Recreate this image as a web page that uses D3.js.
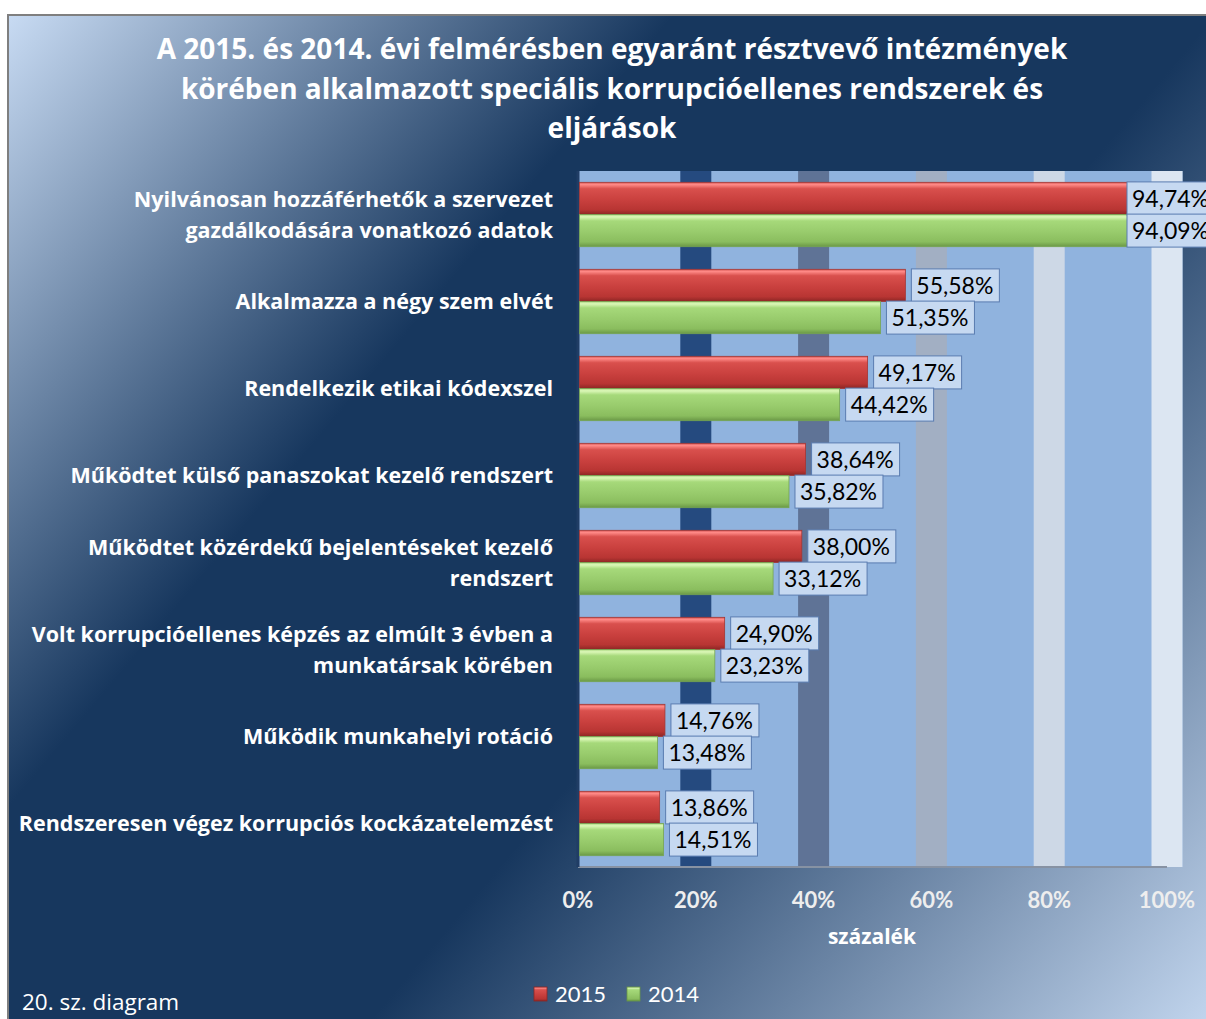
<!DOCTYPE html>
<html lang="hu">
<head>
<meta charset="UTF-8">
<title>Korrupcióellenes rendszerek</title>
<style>
  html, body { margin: 0; padding: 0; background: #ffffff; }
  svg { display: block; }
  text { font-family: Lato, "Open Sans", sans-serif; }
  .os { font-family: "Open Sans", Lato, sans-serif; }
</style>
</head>
<body>
<script src="https://cdn.jsdelivr.net/npm/d3@7"></script>
<div id="chart"></div>
<script>

// adatok
const titleLines = [
  "A 2015. és 2014. évi felmérésben egyaránt résztvevő intézmények",
  "körében alkalmazott speciális korrupcióellenes rendszerek és",
  "eljárások"
];
const categories = [
  ["Nyilvánosan hozzáférhetők a szervezet", "gazdálkodására vonatkozó adatok"],
  ["Alkalmazza a négy szem elvét"],
  ["Rendelkezik etikai kódexszel"],
  ["Működtet külső panaszokat kezelő rendszert"],
  ["Működtet közérdekű bejelentéseket kezelő", "rendszert"],
  ["Volt korrupcióellenes képzés az elmúlt 3 évben a", "munkatársak körében"],
  ["Működik munkahelyi rotáció"],
  ["Rendszeresen végez korrupciós kockázatelemzést"]
];
const seriesNames = ["2015", "2014"];
const values2015 = [94.74, 55.58, 49.17, 38.64, 38.00, 24.90, 14.76, 13.86];
const values2014 = [94.09, 51.35, 44.42, 35.82, 33.12, 23.23, 13.48, 14.51];
const xTicks = [0, 20, 40, 60, 80, 100];
const axisTitle = "százalék";
const footNote = "20. sz. diagram";

// méretek
const W = 1206, H = 1019;
const plot = {left: 578, right: 1167, top: 171, bottom: 867};
const bandW = 31;
const bandColors = ["#254a7f", "#5f7396", "#a2afc3", "#cdd8e6", "#dce6f2"];
const fmt = v => v.toFixed(2).replace(".", ",") + "%";

const svg = d3.select("#chart").append("svg")
  .attr("width", W)
  .attr("height", H);

const defs = svg.append("defs");

// háttér színátmenet
const bg = defs.append("linearGradient")
  .attr("id", "bg")
  .attr("gradientUnits", "userSpaceOnUse")
  .attr("x1", 8).attr("y1", 15).attr("x2", 1228).attr("y2", 1040);
[[0, "#c8dbf3"], [0.32, "#17375e"], [0.58, "#17375e"], [1, "#c8dbf3"]].forEach(s =>
  bg.append("stop").attr("offset", s[0]).attr("stop-color", s[1]));

// oszlop színátmenetek (domború hatás)
const barGrad = {
  "2015": [[0, "#d85a58"], [0.07, "#ff8a87"], [0.2, "#d9504d"], [0.55, "#c9403e"], [0.85, "#b83533"], [1, "#8c2624"]],
  "2014": [[0, "#a9d67f"], [0.07, "#dcf8b8"], [0.2, "#a6d97a"], [0.55, "#98cb6c"], [0.85, "#8abd5e"], [1, "#6a9846"]]
};
seriesNames.forEach(name => {
  const g = defs.append("linearGradient")
    .attr("id", "bar" + name)
    .attr("x1", 0).attr("y1", 0).attr("x2", 0).attr("y2", 1);
  barGrad[name].forEach(s => g.append("stop").attr("offset", s[0]).attr("stop-color", s[1]));
});

// keret
svg.append("rect")
  .attr("x", 8).attr("y", 15)
  .attr("width", 1230).attr("height", 1040)
  .attr("fill", "url(#bg)")
  .attr("stroke", "#7f7f7f")
  .attr("stroke-width", 2);

// cím
svg.append("g").selectAll("text")
  .data(titleLines)
  .join("text")
  .attr("class", "os")
  .attr("x", 612)
  .attr("y", (d, i) => 59 + i * 39.5)
  .attr("text-anchor", "middle")
  .attr("fill", "#ffffff")
  .attr("font-size", 28)
  .attr("font-weight", "bold")
  .text(d => d);

// skálák
const x = d3.scaleLinear().domain([0, 100]).range([plot.left, plot.right]);
const y = d3.scaleBand()
  .domain(d3.range(categories.length))
  .range([plot.top, plot.bottom])
  .paddingInner(0.26)
  .paddingOuter(0.13);
const ySub = d3.scaleBand().domain(seriesNames).range([0, y.bandwidth()]);

// rajzterület
svg.append("rect")
  .attr("x", plot.left)
  .attr("y", plot.top)
  .attr("width", x(100) + bandW / 2 - plot.left)
  .attr("height", plot.bottom - plot.top)
  .attr("fill", "#90b3de");

// rácsvonalak széles sávként
svg.append("g").selectAll("rect")
  .data(xTicks.slice(1))
  .join("rect")
  .attr("x", d => x(d) - bandW / 2)
  .attr("y", plot.top)
  .attr("width", bandW)
  .attr("height", plot.bottom - plot.top)
  .attr("fill", (d, i) => bandColors[i]);

// tengelyvonalak
svg.append("line")
  .attr("x1", plot.left).attr("x2", x(100))
  .attr("y1", plot.bottom).attr("y2", plot.bottom)
  .attr("stroke", "#8792a3").attr("stroke-width", 2);
svg.append("line")
  .attr("x1", plot.left).attr("x2", plot.left)
  .attr("y1", plot.top).attr("y2", plot.bottom)
  .attr("stroke", "#203d65").attr("stroke-width", 3);

// oszlopok
const data = categories.map((c, i) => ({
  i: i,
  vals: [{s: "2015", v: values2015[i]}, {s: "2014", v: values2014[i]}]
}));

const groups = svg.append("g").selectAll("g")
  .data(data)
  .join("g")
  .attr("transform", d => "translate(0," + y(d.i) + ")");

groups.selectAll("rect")
  .data(d => d.vals)
  .join("rect")
  .attr("x", plot.left + 1.5)
  .attr("y", d => ySub(d.s))
  .attr("width", d => x(d.v) - plot.left - 1.5)
  .attr("height", ySub.bandwidth())
  .attr("fill", d => "url(#bar" + d.s + ")")
  .attr("stroke", d => d.s === "2015" ? "#a33634" : "#76a552")
  .attr("stroke-width", 0.8);

// adatfeliratok (a jobb szélen a diagram kerete felé tolva, mint az eredetin)
const boxW = 88, boxH = 33;
const labels = groups.selectAll("g.lab")
  .data(d => d.vals)
  .join("g")
  .attr("class", "lab")
  .attr("transform", d => {
    const bx = Math.min(x(d.v) + 6, 1127);
    return "translate(" + bx + "," + (ySub(d.s) + ySub.bandwidth() / 2 - boxH / 2) + ")";
  });
labels.append("rect")
  .attr("width", boxW).attr("height", boxH)
  .attr("fill", "#c6d9f1")
  .attr("stroke", "#5a7cb0")
  .attr("stroke-width", 1);
labels.append("text")
  .attr("x", 5)
  .attr("y", boxH / 2)
  .attr("dy", "0.36em")
  .attr("font-size", 23)
  .attr("fill", "#000000")
  .text(d => fmt(d.v));

// kategóriafeliratok
const catText = svg.append("g").selectAll("text")
  .data(categories)
  .join("text")
  .attr("class", "os")
  .attr("text-anchor", "end")
  .attr("fill", "#ffffff")
  .attr("font-size", 21.5)
  .attr("font-weight", "bold");
catText.each(function(lines, i) {
  const cy = y(i) + y.bandwidth() / 2;
  d3.select(this).selectAll("tspan")
    .data(lines)
    .join("tspan")
    .attr("x", 553)
    .attr("y", (l, j) => cy + (j - (lines.length - 1) / 2) * 31)
    .attr("dy", "0.35em")
    .text(l => l);
});

// x tengely feliratai
svg.append("g").selectAll("text")
  .data(xTicks)
  .join("text")
  .attr("x", d => x(d))
  .attr("y", 900)
  .attr("dy", "0.35em")
  .attr("text-anchor", "middle")
  .attr("fill", "#eeeeee")
  .attr("font-size", 22)
  .attr("font-weight", "bold")
  .text(d => d + "%");

svg.append("text")
  .attr("class", "os")
  .attr("x", 872)
  .attr("y", 937)
  .attr("dy", "0.35em")
  .attr("text-anchor", "middle")
  .attr("fill", "#ffffff")
  .attr("font-size", 21)
  .attr("font-weight", "bold")
  .text(axisTitle);

// jelmagyarázat
const legend = svg.append("g").selectAll("g")
  .data(seriesNames)
  .join("g")
  .attr("transform", (d, i) => "translate(" + (534 + i * 93) + ",987)");
legend.append("rect")
  .attr("width", 13).attr("height", 14)
  .attr("fill", d => "url(#bar" + d + ")")
  .attr("stroke", d => d === "2015" ? "#8c2624" : "#6a9846")
  .attr("stroke-width", 0.8);
legend.append("text")
  .attr("x", 21)
  .attr("y", 7)
  .attr("dy", "0.36em")
  .attr("fill", "#ffffff")
  .attr("font-size", 22)
  .text(d => d);

// lábjegyzet
svg.append("text")
  .attr("class", "os")
  .attr("x", 22)
  .attr("y", 1002)
  .attr("dy", "0.36em")
  .attr("fill", "#ffffff")
  .attr("font-size", 22.5)
  .text(footNote);

</script>
</body>
</html>
